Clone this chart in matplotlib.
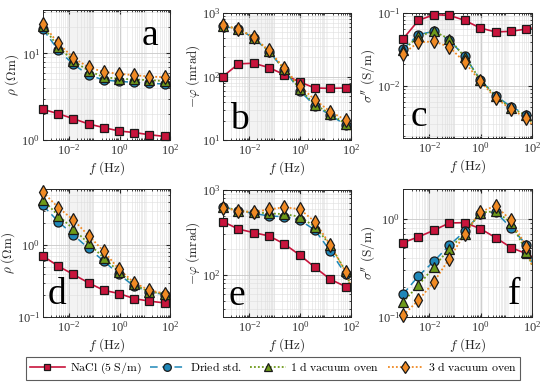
import matplotlib
matplotlib.use("Agg")
import matplotlib.pyplot as plt
from matplotlib.lines import Line2D
from matplotlib.ticker import LogLocator, NullFormatter

plt.rcParams['mathtext.fontset'] = 'cm'
plt.rcParams['font.family'] = ['Liberation Serif', 'DejaVu Serif']

# ---- data ----
freq = [0.00093, 0.00373, 0.0149, 0.0596, 0.238, 0.954, 3.81, 15.3, 61.0]
f_end = 100.0
series_names = ["NaCl (5 S/m)", "Dried std.", "1 d vacuum oven", "3 d vacuum oven"]

# panel a: rho (Ohm m), sample 1
rho_a_nacl = [2.26, 2.01, 1.76, 1.53, 1.39, 1.27, 1.22, 1.15, 1.10]
rho_a_dried = [18.9, 10.9, 7.46, 5.62, 4.92, 4.75, 4.62, 4.50, 4.43]
rho_a_1d = [20.4, 11.9, 8.15, 6.30, 5.30, 5.10, 5.00, 4.90, 4.80]
rho_a_3d = [21.8, 13.0, 8.90, 6.90, 6.10, 5.80, 5.60, 5.40, 5.30]
rho_a_end = [1.06, 4.40, 4.70, 5.10]

# panel b: -phi (mrad), sample 1
phi_b_nacl = [100, 158, 162, 138, 107, 82, 66, 65, 66]
phi_b_dried = [616, 560, 403, 247, 128, 60, 34.5, 24.8, 17.2]
phi_b_1d = [620, 570, 410, 250, 130, 64, 36, 26, 18]
phi_b_3d = [638, 559, 413, 257, 135, 71, 43, 28, 20.7]
phi_b_end = [66, 13.5, 14.0, 14.8]

# panel c: sigma'' (S/m), sample 1
sig_c_nacl = [0.0439, 0.0792, 0.0948, 0.0929, 0.0792, 0.0622, 0.0548, 0.0560, 0.0602]
sig_c_dried = [0.032, 0.0504, 0.056, 0.042, 0.0254, 0.0121, 0.0073, 0.0051, 0.0040]
sig_c_1d = [0.0306, 0.0478, 0.056, 0.0439, 0.0248, 0.0121, 0.0071, 0.0049, 0.0039]
sig_c_3d = [0.0275, 0.0394, 0.0407, 0.034, 0.021, 0.0115, 0.0068, 0.0047, 0.0036]
sig_c_end = [0.062, 0.0034, 0.0031, 0.0029]

# panel d: rho (Ohm m), sample 2
rho_d_nacl = [0.703, 0.509, 0.390, 0.298, 0.235, 0.212, 0.180, 0.166, 0.157]
rho_d_dried = [3.54, 2.12, 1.38, 0.898, 0.598, 0.390, 0.268, 0.223, 0.205]
rho_d_1d = [4.24, 2.57, 1.67, 1.05, 0.665, 0.425, 0.283, 0.223, 0.212]
rho_d_3d = [5.43, 3.32, 2.23, 1.35, 0.820, 0.460, 0.300, 0.235, 0.212]
rho_d_end = [0.149, 0.196, 0.196, 0.196]

# panel e: -phi (mrad), sample 2
phi_e_nacl = [424, 347, 315, 288, 232, 172, 123, 89, 73]
phi_e_dried = [637, 571, 531, 494, 486, 444, 338, 191, 102]
phi_e_1d = [637, 571, 546, 531, 520, 486, 370, 225, 111]
phi_e_3d = [619, 566, 546, 593, 625, 597, 424, 225, 109]
phi_e_end = [68, 70, 72, 73]

# panel f: sigma'' (S/m), sample 2
sig_f_nacl = [0.570, 0.652, 0.761, 0.903, 0.910, 0.791, 0.641, 0.507, 0.440]
sig_f_dried = [0.170, 0.261, 0.368, 0.536, 0.743, 1.125, 1.170, 0.803, 0.544]
sig_f_1d = [0.142, 0.210, 0.322, 0.496, 0.703, 1.150, 1.190, 0.910, 0.458]
sig_f_3d = [0.104, 0.148, 0.227, 0.392, 0.703, 1.170, 1.350, 0.962, 0.515]
sig_f_end = [0.41, 0.35, 0.34, 0.33]

panel_letters = ["a", "b", "c", "d", "e", "f"]

# ---- styles ----
styles = [
    dict(color='#C8143C', ls='-', marker='s', mfc='#C8143C', ms=5.2, lw=1.2),
    dict(color='#1F87B8', ls=(0, (5, 3)), marker='o', mfc='#1F87B8', ms=6.5, lw=1.1),
    dict(color='#6E9A1A', ls=(0, (1, 1.2)), marker='^', mfc='#6E9A1A', ms=6.5, lw=1.3),
    dict(color='#F08A24', ls=(0, (1, 1.2)), marker='d', mfc='#F08A24', ms=7.5, lw=1.3),
]

W, H = 550, 383
fig = plt.figure(figsize=(W / 100, H / 100), dpi=100)

boxes = [(43, 10, 170, 140), (223, 13, 351, 140), (403, 13, 532, 138),
         (43, 189, 170, 317), (223, 190, 351, 317), (403, 189, 532, 317)]

panels = [
    ([rho_a_nacl, rho_a_dried, rho_a_1d, rho_a_3d], rho_a_end, (1.0, 31.6), r'$\rho\ (\Omega\mathrm{m})$'),
    ([phi_b_nacl, phi_b_dried, phi_b_1d, phi_b_3d], phi_b_end, (10, 1000), r'$-\varphi\ (\mathrm{mrad})$'),
    ([sig_c_nacl, sig_c_dried, sig_c_1d, sig_c_3d], sig_c_end, (0.0019, 0.1), r"$\sigma''\ (\mathrm{S/m})$"),
    ([rho_d_nacl, rho_d_dried, rho_d_1d, rho_d_3d], rho_d_end, (0.1, 6.0), r'$\rho\ (\Omega\mathrm{m})$'),
    ([phi_e_nacl, phi_e_dried, phi_e_1d, phi_e_3d], phi_e_end, (32, 1000), r'$-\varphi\ (\mathrm{mrad})$'),
    ([sig_f_nacl, sig_f_dried, sig_f_1d, sig_f_3d], sig_f_end, (0.1, 2.0), r"$\sigma''\ (\mathrm{S/m})$"),
]

letter_pos = [(0.84, 0.80), (0.13, 0.16), (0.12, 0.17), (0.11, 0.17), (0.11, 0.17), (0.86, 0.17)]

for i, ((vals, ends, ylim, ylab), box) in enumerate(zip(panels, boxes)):
    x0, y0, x1, y1 = box
    ax = fig.add_axes([x0 / W, 1 - y1 / H, (x1 - x0) / W, (y1 - y0) / H])
    ax.set_xscale('log')
    ax.set_yscale('log')
    # faint background bands
    ax.axvspan(1e-2, 1e-1, color='#f3f3f3', lw=0, zorder=0)
    ax.axvspan(1.0, 1.25, color='#f3f3f3', lw=0, zorder=0)
    ax.axvspan(10.0, 12.5, color='#f3f3f3', lw=0, zorder=0)
    for k, (v, e) in enumerate(zip(vals, ends)):
        st = styles[k]
        xs = list(freq) + [f_end]
        ys = list(v) + [e]
        ax.plot(xs, ys, color=st['color'], ls=st['ls'], lw=st['lw'], zorder=3 + k)
        ax.plot(freq, v, ls='none', marker=st['marker'], mfc=st['mfc'], mec='#1a1a1a',
                mew=0.9, ms=st['ms'], zorder=7 + k, clip_on=False)
    ax.set_xlim(freq[0], 100)
    ax.set_ylim(*ylim)
    ax.set_xticks([1e-2, 1, 1e2])
    ax.xaxis.set_minor_locator(LogLocator(base=10, subs=range(2, 10), numticks=30))
    ax.xaxis.set_minor_formatter(NullFormatter())
    ax.yaxis.set_major_locator(LogLocator(base=10, numticks=20))
    ax.yaxis.set_minor_locator(LogLocator(base=10, subs=range(2, 10), numticks=30))
    ax.yaxis.set_minor_formatter(NullFormatter())
    ax.grid(True, which='major', color='#c8c8c8', lw=0.6)
    ax.grid(True, which='minor', color='#dedede', lw=0.4)
    ax.set_axisbelow(True)
    ax.tick_params(which='both', direction='in', top=True, right=True,
                   colors='#262626', labelsize=9, pad=2)
    ax.tick_params(axis='both', labelcolor='#333333')
    ax.tick_params(which='major', length=3)
    ax.tick_params(which='minor', length=1.5)
    for s in ax.spines.values():
        s.set_color('#262626')
        s.set_linewidth(0.7)
    ax.set_xlabel(r'$f\ (\mathrm{Hz})$', fontsize=9.5, labelpad=1, color='#262626')
    ax.set_ylabel(ylab, fontsize=9.5, labelpad=0, color='#262626')
    ax.text(letter_pos[i][0], letter_pos[i][1], panel_letters[i], transform=ax.transAxes,
            fontsize=27, ha='center', va='center', family='Liberation Serif', zorder=20)

handles = [Line2D([], [], color=st['color'], ls=st['ls'], lw=st['lw'], marker=st['marker'],
                  mfc=st['mfc'], mec='#1a1a1a', mew=0.9, ms=st['ms'] * 0.85)
           for st in styles]
leg = fig.legend(handles=handles,
                 labels=[r'$\mathrm{NaCl\ (5\ S/m)}$', r'$\mathrm{Dried\ std.}$',
                         r'$\mathrm{1\ d\ vacuum\ oven}$', r'$\mathrm{3\ d\ vacuum\ oven}$'],
                 loc='center', bbox_to_anchor=(273 / W, 1 - 368.5 / H), ncol=4,
                 fontsize=8.5, frameon=True, fancybox=False, handlelength=3.0,
                 handletextpad=0.4, columnspacing=0.7, borderpad=0.3, numpoints=1)
leg.get_frame().set_edgecolor('#333333')
leg.get_frame().set_linewidth(0.8)

fig.savefig('out.png', dpi=100)
